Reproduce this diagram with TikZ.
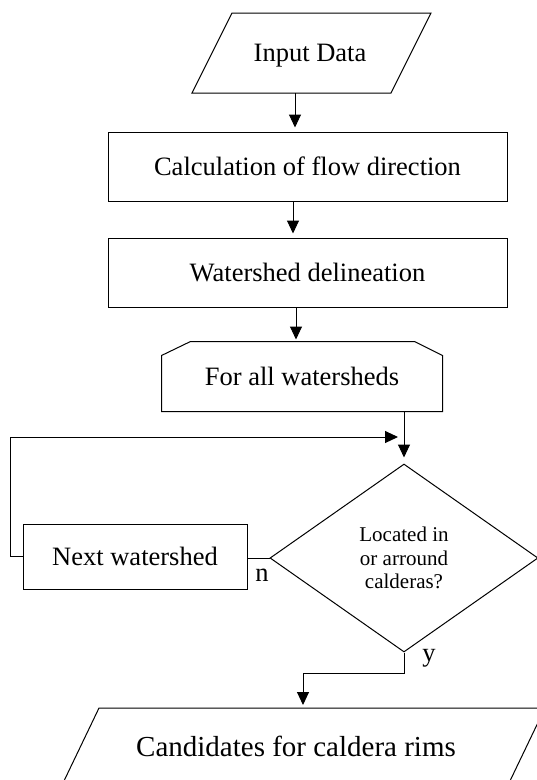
\documentclass[tikz,border=0pt]{standalone}
\usepackage{fontspec}
\setmainfont{Liberation Serif}
\usetikzlibrary{arrows.meta,shapes.geometric}
\begin{document}
\begin{tikzpicture}[x=1pt,y=-1pt,
  line width=1pt,
  bigtext/.style={font=\fontsize{26.5}{30}\selectfont},
  box/.style={draw, rectangle, inner sep=0pt, bigtext},
  plain/.style={draw=none, inner sep=0pt},
  arr/.style={-{Triangle[length=13pt,width=12pt]}, shorten >=4pt},
]
\useasboundingbox (0,0) rectangle (537,780);
\clip (0,0) rectangle (537,780);

% Input data
\coordinate (ibl) at (192,93);
\coordinate (itl) at (232,13);
\coordinate (itr) at (431,13);
\coordinate (ibr) at (391,93);
\draw (ibl) -- (itl) -- (itr) -- (ibr) -- cycle;
\node[bigtext, inner sep=0pt, anchor=base] (inp) at (310,61.5) {Input Data};
\coordinate (inpS) at (295,93);

% Calculation
\node[box, minimum width=399pt, minimum height=69pt] (calc) at (307.5,166.5) {Calculation of flow direction};
\draw[arr] (inpS) -- (inpS |- calc.north);

% Watershed delineation
\node[box, minimum width=399pt, minimum height=69pt] (wsd) at (307.5,272.5) {Watershed delineation};
\draw[arr] ([xshift=-14.5pt]calc.south) -- ([xshift=-14.5pt]wsd.north);

% For all watersheds
\node[plain, bigtext, minimum width=280pt, minimum height=69pt] (fa) at (302,376.5) {For all watersheds};
\draw (fa.south west) -- ([yshift=-14pt]fa.north west) -- ([xshift=29pt]fa.north west)
  -- ([xshift=-28pt]fa.north east) -- ([yshift=-14pt]fa.north east) -- (fa.south east) -- cycle;
\draw[arr, shorten >=2pt] ([xshift=-11.5pt]wsd.south) -- ([xshift=-6pt]fa.north);

% Decision
\node[diamond, draw, inner sep=0pt, minimum width=268pt, minimum height=188pt,
  align=center, font=\fontsize{21}{23.6}\selectfont] (dec) at (404,558)
  {Located in\\or arround\\calderas?};
\draw[arr, shorten >=6pt] ([xshift=102pt]fa.south) -- (dec.north);

% Next watershed
\node[box, minimum width=224pt, minimum height=65pt] (nw) at (135,556.5) {Next watershed};
\draw (dec.west) -- (nw.east |- dec.west);
\node[bigtext, inner sep=0pt, anchor=base] (nlab) at (262,581) {n};
\coordinate (jn) at (404,437);
\draw[arr, shorten >=6pt] (nw.west) -- ++(-12,0) |- (jn);

% Candidates
\coordinate (cbl) at (60.6,788);
\coordinate (ctl) at (99,708);
\coordinate (ctr) at (545,708);
\coordinate (cbr) at (506.6,788);
\draw (cbl) -- (ctl) -- (ctr) -- (cbr) -- cycle;
\node[font=\fontsize{29}{33}\selectfont, inner sep=0pt, anchor=base] (cand) at (296,756) {Candidates for caldera rims};
\coordinate (yc) at (303,673);
\coordinate (candT) at (303,708);
\node[bigtext, inner sep=0pt, anchor=base] (ylab) at (429,661) {y};
\draw[arr, shorten >=3pt] (dec.south) |- (yc) -- (candT);
\end{tikzpicture}
\end{document}
